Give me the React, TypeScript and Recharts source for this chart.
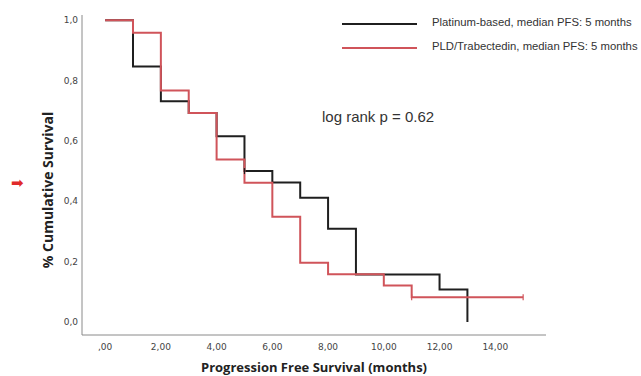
import { Line, LineChart, XAxis, YAxis } from "recharts";

// Kaplan-Meier steps (months, cumulative survival)
const platinumTimes = [0, 1, 2, 3, 4, 5, 6, 7, 8, 9, 12, 13];
const platinumSurv = [1.0, 0.846, 0.731, 0.692, 0.615, 0.5, 0.462, 0.412, 0.309, 0.157, 0.108, 0.0];
const platinumCensored = [5];

const pldTimes = [0, 1, 2, 3, 4, 5, 6, 7, 8, 10, 11, 15];
const pldSurv = [1.0, 0.958, 0.767, 0.692, 0.538, 0.461, 0.349, 0.196, 0.158, 0.121, 0.082, 0.082];
const pldCensored = [11, 15];

const xTicks = [0, 2, 4, 6, 8, 10, 12, 14];
const yTicks = [0, 0.2, 0.4, 0.6, 0.8, 1.0];

const BLACK = "#1f1f1f";
const RED = "#d0545a";

function toRows(times: number[], surv: number[], censored: number[]) {
  return times.map((t, i) => ({ t, s: surv[i], c: censored.includes(t) }));
}

const platinumRows = toRows(platinumTimes, platinumSurv, platinumCensored);
const pldRows = toRows(pldTimes, pldSurv, pldCensored);

function censorDot(color: string) {
  return (props: any) => {
    const { cx, cy, payload, index } = props;
    if (!payload || !payload.c) return <g key={`d${index}`} />;
    return (
      <g key={`d${index}`}>
        <line x1={cx} x2={cx} y1={cy - 3} y2={cy + 3} stroke={color} strokeWidth={1.2} />
      </g>
    );
  };
}

const xFmt = (v: number) => (v === 0 ? ",00" : v.toFixed(2).replace(".", ","));
const yFmt = (v: number) => v.toFixed(1).replace(".", ",");

const tickStyle = { fill: "#444", fontSize: 9, fontFamily: "DejaVu Sans" };
const legendText = { position: "absolute" as const, left: 432, fontFamily: "Liberation Sans", fontSize: 11.3, color: "#333", whiteSpace: "nowrap" as const };

export default function App() {
  return (
    <div style={{ position: "absolute", left: 0, top: 0, width: 641, height: 376, background: "#fff" }}>
      <LineChart width={641} height={376} margin={{ top: 15, right: 95, bottom: 0, left: 0 }}>
        <XAxis
          dataKey="t"
          type="number"
          domain={[-0.83, 15.82]}
          ticks={xTicks}
          tickFormatter={xFmt}
          allowDataOverflow
          tickLine={false}
          tickSize={4}
          tickMargin={5}
          height={41}
          stroke="#8a8a8a"
          tick={tickStyle}
        />
        <YAxis
          type="number"
          domain={[-0.043, 1.017]}
          ticks={yTicks}
          tickFormatter={yFmt}
          allowDataOverflow
          tickLine={false}
          tickSize={2}
          tickMargin={2}
          width={82}
          stroke="#8a8a8a"
          tick={tickStyle}
        />
        <Line
          data={platinumRows}
          dataKey="s"
          type="stepAfter"
          stroke={BLACK}
          strokeWidth={2}
          dot={censorDot(BLACK)}
          activeDot={false}
          isAnimationActive={false}
        />
        <Line
          data={pldRows}
          dataKey="s"
          type="stepAfter"
          stroke={RED}
          strokeWidth={2}
          dot={censorDot(RED)}
          activeDot={false}
          isAnimationActive={false}
        />
      </LineChart>

      {/* legend */}
      <div style={{ position: "absolute", left: 342, top: 23, width: 75, height: 2, background: BLACK }} />
      <div style={{ position: "absolute", left: 342, top: 47, width: 75, height: 2, background: RED }} />
      <div style={{ ...legendText, top: 16 }}>Platinum-based, median PFS: 5 months</div>
      <div style={{ ...legendText, top: 40 }}>PLD/Trabectedin, median PFS: 5 months</div>

      <div style={{ position: "absolute", left: 322, top: 108, fontFamily: "Liberation Sans", fontSize: 15, color: "#333", whiteSpace: "nowrap" }}>
        log rank p = 0.62
      </div>

      {/* axis titles */}
      <div
        style={{
          position: "absolute",
          left: 47,
          top: 190,
          transform: "translate(-50%, -50%) rotate(-90deg)",
          fontFamily: "Open Sans",
          fontWeight: 700,
          fontSize: 14,
          color: "#222",
          whiteSpace: "nowrap",
        }}
      >
        % Cumulative Survival
      </div>
      <div
        style={{
          position: "absolute",
          left: 314,
          top: 367,
          transform: "translate(-50%, -50%)",
          fontFamily: "Open Sans",
          fontWeight: 700,
          fontSize: 13,
          color: "#222",
          whiteSpace: "nowrap",
        }}
      >
        Progression Free Survival (months)
      </div>

      <div style={{ position: "absolute", left: 11, top: 174, fontFamily: "DejaVu Sans", fontSize: 15, lineHeight: "18px", color: "#e02a2a" }}>
        ➡
      </div>
    </div>
  );
}
